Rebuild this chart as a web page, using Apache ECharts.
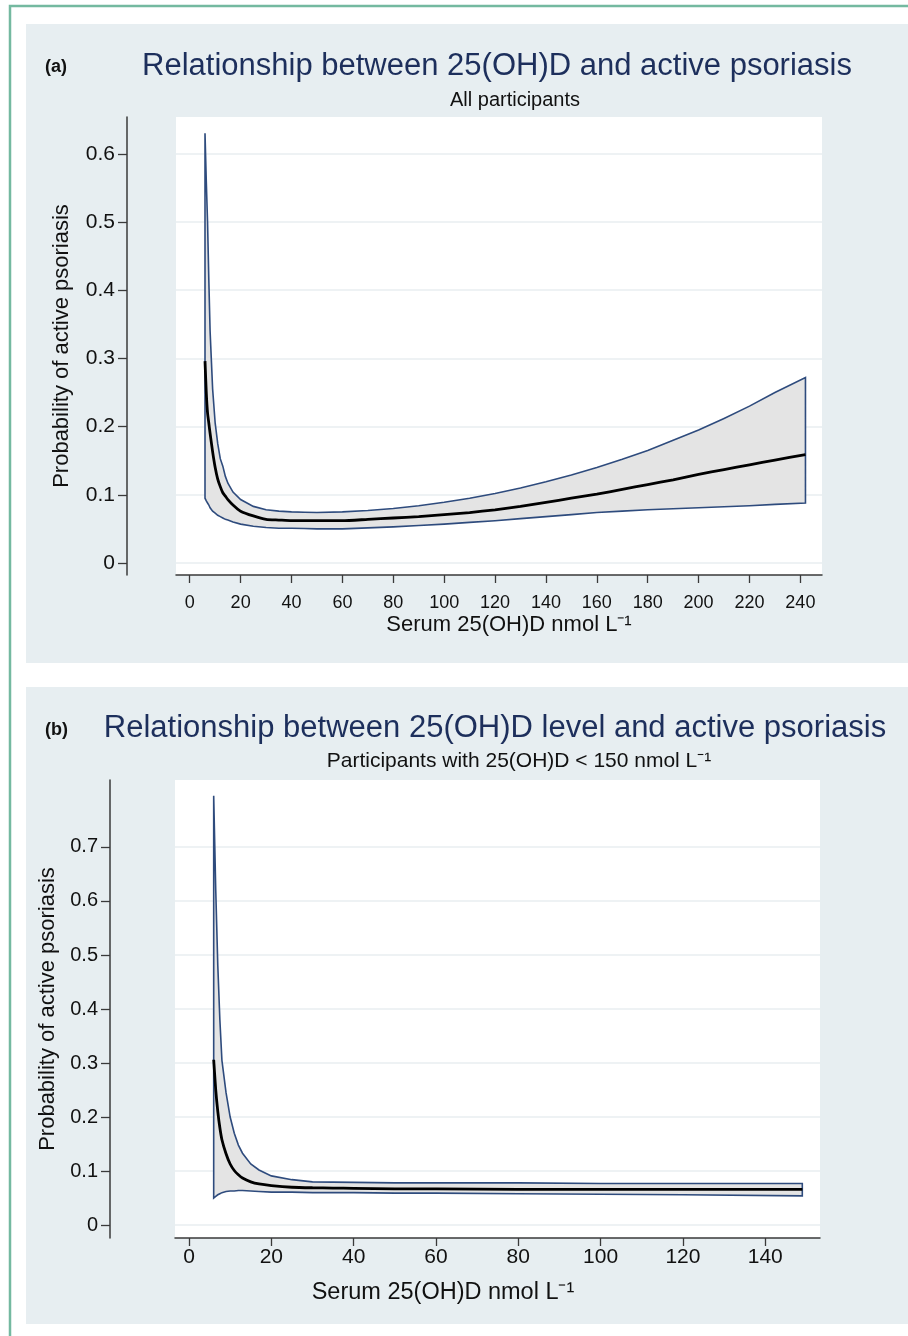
<!DOCTYPE html>
<html>
<head>
<meta charset="utf-8">
<script src="https://cdn.jsdelivr.net/npm/echarts@6/dist/echarts.min.js"></script>
<style>
html, body { margin: 0; padding: 0; background: #fff; }
#main { width: 908px; height: 1336px; }
</style>
</head>
<body>
<div id="main"></div>
<script>
// (a) all participants
var xA    = [6, 6.5, 7, 7.5, 8, 9, 10, 11, 12, 13, 14, 15, 17, 20, 25, 30, 35, 40, 45, 50, 60, 70, 80, 90, 100, 110, 120, 130, 140, 150, 160, 170, 180, 190, 200, 210, 220, 230, 242];
var fitA  = [0.296, 0.25, 0.22, 0.205, 0.19, 0.163, 0.14, 0.123, 0.112, 0.103, 0.098, 0.093, 0.085, 0.076, 0.069, 0.064, 0.063, 0.062, 0.062, 0.062, 0.062, 0.064, 0.066, 0.068, 0.071, 0.074, 0.078, 0.083, 0.089, 0.095, 0.101, 0.108, 0.115, 0.122, 0.130, 0.137, 0.144, 0.151, 0.159];
var lowA  = [0.095, 0.091, 0.088, 0.085, 0.081, 0.076, 0.073, 0.070, 0.068, 0.066, 0.064, 0.063, 0.060, 0.057, 0.054, 0.052, 0.051, 0.051, 0.0505, 0.050, 0.050, 0.0515, 0.053, 0.055, 0.057, 0.0595, 0.062, 0.065, 0.068, 0.071, 0.074, 0.076, 0.078, 0.0795, 0.081, 0.0825, 0.084, 0.086, 0.088];
var upA   = [0.63, 0.56, 0.50, 0.415, 0.34, 0.255, 0.205, 0.175, 0.153, 0.142, 0.127, 0.117, 0.104, 0.093, 0.083, 0.078, 0.076, 0.075, 0.0745, 0.074, 0.075, 0.077, 0.080, 0.084, 0.089, 0.095, 0.102, 0.110, 0.119, 0.129, 0.140, 0.152, 0.165, 0.180, 0.195, 0.212, 0.230, 0.250, 0.272];
var xTicksA = [0, 20, 40, 60, 80, 100, 120, 140, 160, 180, 200, 220, 240];
var yTicksA = [0, 0.1, 0.2, 0.3, 0.4, 0.5, 0.6];

// (b) participants with 25(OH)D < 150
var xB    = [6, 6.5, 7, 7.5, 8, 9, 10, 11, 12, 13, 15, 17, 20, 25, 30, 35, 40, 50, 60, 80, 100, 120, 149];
var fitB  = [0.306, 0.25, 0.21, 0.18, 0.158, 0.132, 0.113, 0.101, 0.093, 0.087, 0.080, 0.076, 0.073, 0.070, 0.069, 0.0685, 0.068, 0.067, 0.067, 0.066, 0.066, 0.066, 0.066];
var lowB  = [0.050, 0.053, 0.056, 0.058, 0.060, 0.062, 0.063, 0.063, 0.064, 0.064, 0.063, 0.062, 0.061, 0.061, 0.060, 0.060, 0.060, 0.059, 0.059, 0.058, 0.057, 0.056, 0.054];
var upB   = [0.795, 0.62, 0.48, 0.38, 0.305, 0.245, 0.20, 0.17, 0.148, 0.133, 0.113, 0.102, 0.091, 0.084, 0.080, 0.0795, 0.079, 0.078, 0.078, 0.078, 0.077, 0.077, 0.077];
var xTicksB = [0, 20, 40, 60, 80, 100, 120, 140];
var yTicksB = [0, 0.1, 0.2, 0.3, 0.4, 0.5, 0.6, 0.7];

var FONT = 'Liberation Sans, Arial, Helvetica, sans-serif';
var NAVY = '#1d2f5c';
var CI_LINE = '#2e4b7d';
var CI_FILL = '#e4e4e4';
var PANEL = '#e7eef1';
var AXIS = '#3a3a3a';

function pairs(xs, ys){
	var out = [];
	for(var i = 0; i < xs.length; i++){
		out.push([xs[i], ys[i]]);
	}
	return out;
}

// closed polygon for the confidence band (upper edge, then lower edge back)
function bandSeries(idx, xs, lo, hi){
	return {
		type: 'custom',
		xAxisIndex: idx,
		yAxisIndex: idx,
		data: xs.map(function(x, i){ return [x, lo[i], hi[i]]; }),
		encode: { x: 0, y: [1, 2] },
		renderItem: function(params, api){
			if(params.dataIndex !== 0) return;
			var pts = [];
			for(var i = 0; i < xs.length; i++){
				pts.push(api.coord([xs[i], hi[i]]));
			}
			for(var j = xs.length - 1; j >= 0; j--){
				pts.push(api.coord([xs[j], lo[j]]));
			}
			return {
				type: 'polygon',
				shape: { points: pts },
				style: { fill: CI_FILL, stroke: CI_LINE, lineWidth: 1.6 }
			};
		},
		silent: true,
		z: 2
	};
}

function fitSeries(idx, xs, ys){
	return {
		type: 'line',
		xAxisIndex: idx,
		yAxisIndex: idx,
		data: pairs(xs, ys),
		showSymbol: false,
		symbol: 'none',
		smooth: 0.2,
		lineStyle: { color: '#000', width: 2.8 },
		silent: true,
		z: 3
	};
}

function xAxisOf(idx, min, max, ticks, labelSize, margin, nameSize, nameGap, namePad){
	return {
		type: 'value',
		gridIndex: idx,
		min: min,
		max: max,
		axisLine: { show: true, onZero: false, lineStyle: { color: AXIS, width: 1.5 } },
		axisTick: { show: true, customValues: ticks, length: 8, lineStyle: { color: AXIS, width: 1.3 } },
		axisLabel: { customValues: ticks, color: '#111', fontSize: labelSize, fontFamily: FONT, margin: margin },
		splitLine: { show: false },
		name: 'Serum 25(OH)D nmol L\u207B\u00B9',
		nameLocation: 'middle',
		nameGap: nameGap,
		nameTextStyle: { color: '#111', fontSize: nameSize, fontFamily: FONT, padding: namePad }
	};
}

function yAxisOf(idx, min, max, ticks, offset, labelSize, nameGap){
	return {
		type: 'value',
		gridIndex: idx,
		min: min,
		max: max,
		offset: offset,
		axisLine: { show: true, onZero: false, lineStyle: { color: AXIS, width: 1.5 } },
		axisTick: { show: true, customValues: ticks, length: 9, lineStyle: { color: AXIS, width: 1.3 } },
		axisLabel: {
			customValues: ticks, color: '#111', fontSize: labelSize, fontFamily: FONT, margin: 12,
			formatter: function(v){ return v === 0 ? '0' : v.toFixed(1); }
		},
		splitLine: { show: true, lineStyle: { color: '#e9eef1', width: 1.5 } },
		name: 'Probability of active psoriasis',
		nameLocation: 'middle',
		nameRotate: 90,
		nameGap: nameGap,
		nameTextStyle: { color: '#111', fontSize: 22, fontFamily: FONT }
	};
}

function label(text, x, y, size, color, bold, align){
	return {
		type: 'text',
		x: x,
		y: y,
		z: 100,
		style: {
			text: text,
			fill: color,
			font: (bold ? 'bold ' : '') + size + 'px ' + FONT,
			textAlign: align || 'left',
			textVerticalAlign: 'middle'
		}
	};
}

var myChart = echarts.init(document.getElementById('main'));
var option = {
	backgroundColor: '#fff',
	animation: false,
	graphic: [
		{ type: 'rect', z: -100, shape: { x: 10, y: 6, width: 910, height: 1340 }, style: { fill: '#fff', stroke: '#74b9a0', lineWidth: 2.5 } },
		{ type: 'rect', z: -90, shape: { x: 26, y: 24, width: 882, height: 639 }, style: { fill: PANEL } },
		{ type: 'rect', z: -90, shape: { x: 26, y: 687, width: 882, height: 637 }, style: { fill: PANEL } },
		label('(a)', 45, 67, 18, '#111', true),
		label('Relationship between 25(OH)D and active psoriasis', 497, 66, 31, NAVY, false, 'center'),
		label('All participants', 515, 100, 20, '#111', false, 'center'),
		label('(b)', 45, 730, 18, '#111', true),
		label('Relationship between 25(OH)D level and active psoriasis', 495, 728, 31, NAVY, false, 'center'),
		label('Participants with 25(OH)D < 150 nmol L\u207B\u00B9', 519, 761, 21, '#111', false, 'center')
	],
	grid: [
		{ left: 176, top: 117, width: 646, height: 458, show: true, backgroundColor: '#fff', borderWidth: 0 },
		{ left: 175, top: 780, width: 645, height: 458, show: true, backgroundColor: '#fff', borderWidth: 0 }
	],
	xAxis: [
		xAxisOf(0, -5.4, 248.5, xTicksA, 18, 19, 22, 39, [0, 0, 0, 20]),
		xAxisOf(1, -3.4, 153.3, xTicksB, 21, 9, 23.5, 43, [0, 109, 0, 0])
	],
	yAxis: [
		yAxisOf(0, -0.0176, 0.654, yTicksA, 49, 21, 54),
		yAxisOf(1, -0.024, 0.824, yTicksB, 65, 20, 46)
	],
	series: [
		bandSeries(0, xA, lowA, upA),
		fitSeries(0, xA, fitA),
		bandSeries(1, xB, lowB, upB),
		fitSeries(1, xB, fitB)
	]
};
myChart.setOption(option);
</script>
</body>
</html>
